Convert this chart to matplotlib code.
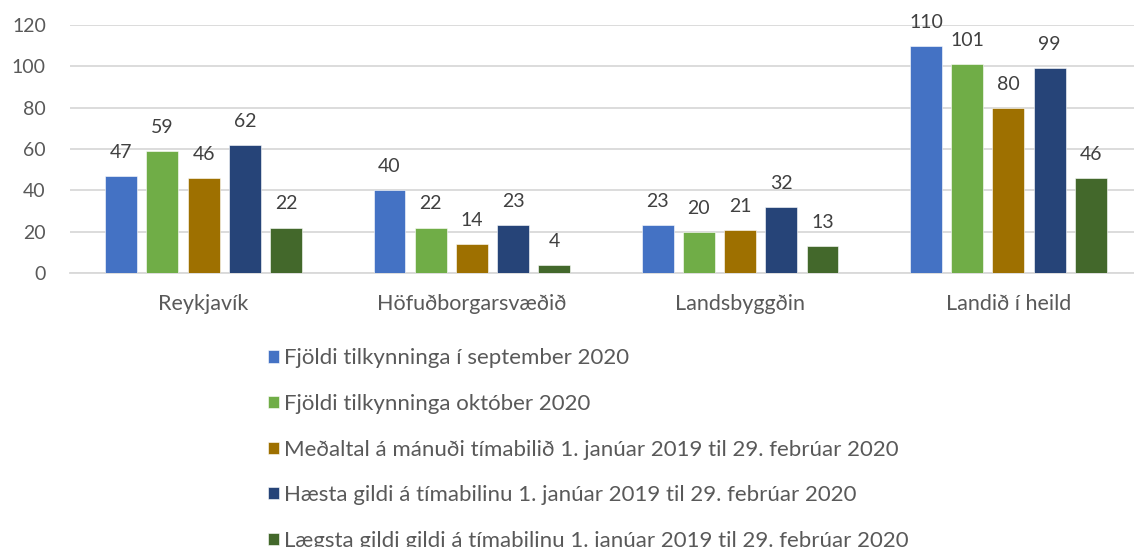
import matplotlib
matplotlib.use("Agg")
import matplotlib.pyplot as plt
import numpy as np

categories = ["Reykjavík", "Höfuðborgarsvæðið", "Landsbyggðin", "Landið í heild"]
series_names = [
    "Fjöldi tilkynninga í september 2020",
    "Fjöldi tilkynninga október 2020",
    "Meðaltal á mánuði tímabilið 1. janúar 2019 til 29. febrúar 2020",
    "Hæsta gildi á tímabilinu 1. janúar 2019 til 29. febrúar 2020",
    "Lægsta gildi gildi á tímabilinu 1. janúar 2019 til 29. febrúar 2020",
]
sept_2020 = [47, 40, 23, 110]
okt_2020 = [59, 22, 20, 101]
medaltal = [46, 14, 21, 80]
haesta = [62, 23, 32, 99]
laegsta = [22, 4, 13, 46]
series_values = [sept_2020, okt_2020, medaltal, haesta, laegsta]
colors = ["#4472C4", "#70AD47", "#9E7000", "#264478", "#43682B"]
yticks = [0, 20, 40, 60, 80, 100, 120]

plt.rcParams["font.family"] = ["Lato", "DejaVu Sans"]
W, H = 1134, 547
fig = plt.figure(figsize=(W / 100, H / 100), dpi=100)
ax = fig.add_axes([69.5 / W, (H - 273) / H, 1073 / W, 248 / H])

x = np.arange(len(categories))
pitch = 0.1535
bw = 0.119
handles = []
for i, (vals, c, name) in enumerate(zip(series_values, colors, series_names)):
    pos = x + (i - 2) * pitch
    bars = ax.bar(pos, vals, width=bw, color=c, edgecolor="white", linewidth=0.4,
                  label=name, zorder=3)
    handles.append(bars)
    for px, v in zip(pos, vals):
        ax.annotate(str(v), (px, v), xytext=(0, 13), textcoords="offset points",
                    ha="center", va="baseline", fontsize=14, color="#404040",
                    clip_on=False, zorder=4)

ax.set_xlim(-0.5, len(categories) - 0.5)
ax.set_ylim(0, 120)
ax.set_yticks(yticks)
ax.set_xticks(x)
ax.set_xticklabels(categories, fontsize=15.5)
ax.tick_params(axis="both", length=0, labelcolor="#595959")
ax.tick_params(axis="y", labelsize=14, pad=17)
ax.tick_params(axis="x", pad=15)
ax.grid(axis="y", color="#D9D9D9", linewidth=1.3, zorder=0)
for s in ["top", "right", "left"]:
    ax.spines[s].set_visible(False)
ax.spines["bottom"].set_color("#D9D9D9")
ax.spines["bottom"].set_linewidth(1.3)

leg = fig.legend(handles=handles, loc="upper left",
                 bbox_to_anchor=(268 / W, (H - 348.5) / H),
                 frameon=False, fontsize=16, labelcolor="#595959",
                 handlelength=0.48, handleheight=0.48, handletextpad=0.25,
                 labelspacing=1.15, borderpad=0, borderaxespad=0)

fig.savefig("out.png", dpi=100)
